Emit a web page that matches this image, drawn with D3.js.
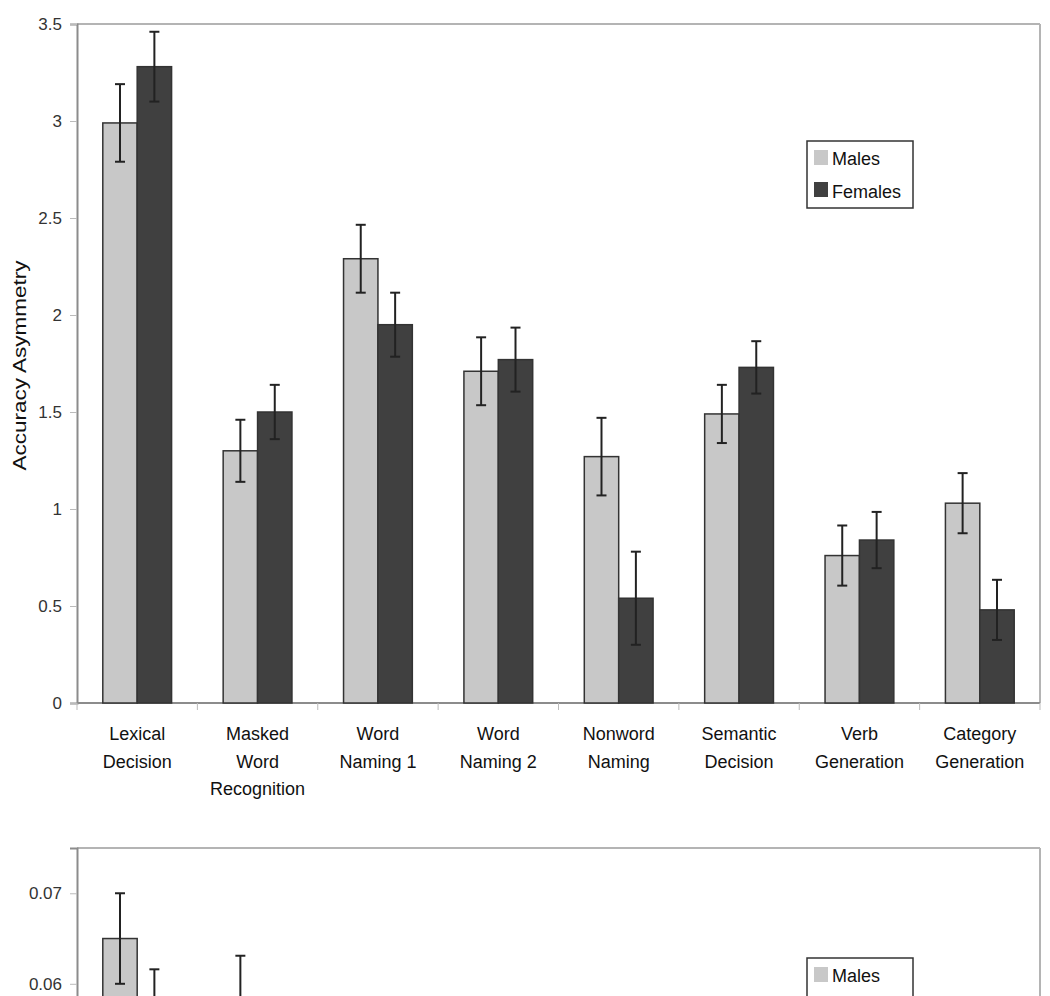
<!DOCTYPE html>
<html>
<head>
<meta charset="utf-8">
<script src="https://cdn.jsdelivr.net/npm/d3@7"></script>
<style>
  body { margin: 0; background: #fff; }
  svg text { font-family: "Liberation Sans", Arial, sans-serif; }
</style>
</head>
<body>
<div id="chart"></div>
<script>
// accuracy asymmetry by task, males vs females
var categories = ['Lexical Decision', 'Masked Word Recognition', 'Word Naming 1', 'Word Naming 2',
                  'Nonword Naming', 'Semantic Decision', 'Verb Generation', 'Category Generation'];
var categoryLines = [['Lexical', 'Decision'], ['Masked', 'Word', 'Recognition'], ['Word', 'Naming 1'],
                     ['Word', 'Naming 2'], ['Nonword', 'Naming'], ['Semantic', 'Decision'],
                     ['Verb', 'Generation'], ['Category', 'Generation']];
var series = ['Males', 'Females'];

var malesTop     = [2.99, 1.30, 2.29, 1.71, 1.27, 1.49, 0.76, 1.03];
var malesTopErr  = [0.20, 0.16, 0.175, 0.175, 0.20, 0.15, 0.155, 0.155];
var femalesTop    = [3.28, 1.50, 1.95, 1.77, 0.54, 1.73, 0.84, 0.48];
var femalesTopErr = [0.18, 0.14, 0.165, 0.165, 0.24, 0.135, 0.145, 0.155];
var topTicks = [0, 0.5, 1, 1.5, 2, 2.5, 3, 3.5];

// second panel, only its top part is in view
var malesBottom     = [0.065, 0.058, 0.050, 0.048, 0.046, 0.047, 0.044, 0.045];
var malesBottomErr  = [0.005, 0.0051, 0.004, 0.004, 0.005, 0.004, 0.004, 0.004];
var femalesBottom    = [0.057, 0.052, 0.049, 0.047, 0.043, 0.048, 0.045, 0.042];
var femalesBottomErr = [0.0046, 0.005, 0.004, 0.004, 0.005, 0.004, 0.004, 0.004];
var bottomTicks = [0, 0.01, 0.02, 0.03, 0.04, 0.05, 0.06, 0.07];

var colors = { Males: '#c8c8c8', Females: '#404040' };

var width = 1050, height = 996;
var left = 77, right = 1040;
var plotH = 679;

var svg = d3.select('#chart').append('svg')
    .attr('width', width)
    .attr('height', height);

svg.append('rect').attr('width', width).attr('height', height).attr('fill', 'white');

var x0 = d3.scaleBand().domain(categories).range([left, right]);
var x1 = d3.scaleBand().domain(series).range([0, x0.bandwidth()]).paddingOuter(0.75);

// only put text where it lands inside the page
function inView(yy) { return yy <= height - 4; }

function panel(top, ymax, ticks, males, malesErr, females, femalesErr, legendY) {
    var y = d3.scaleLinear().domain([0, ymax]).range([top + plotH, top]);
    var g = svg.append('g');

    // frame: top and right in light grey
    g.append('line').attr('x1', left).attr('x2', right).attr('y1', top).attr('y2', top)
        .attr('stroke', '#b4b4b4').attr('stroke-width', 2);
    g.append('line').attr('x1', right).attr('x2', right).attr('y1', top).attr('y2', top + plotH)
        .attr('stroke', '#b4b4b4').attr('stroke-width', 2);

    var shown = ticks.filter(function(d) { return inView(y(d) + 6); });
    var yAxis = g.append('g')
        .attr('transform', 'translate(' + left + ',0)')
        .call(d3.axisLeft(y).tickValues(shown).tickSize(7).tickPadding(8).tickFormat(function(d) { return String(d); }));
    yAxis.select('.domain').attr('stroke', '#8c8c8c').attr('stroke-width', 2);
    yAxis.selectAll('.tick line').attr('stroke', '#bbb');
    yAxis.selectAll('.tick text').attr('font-size', 17).attr('fill', '#333')
        .style('font-family', '"Liberation Sans", Arial, sans-serif');

    // baseline + separators between categories
    g.append('line').attr('x1', left).attr('x2', right).attr('y1', y(0)).attr('y2', y(0))
        .attr('stroke', '#8c8c8c').attr('stroke-width', 2);
    var bounds = categories.map(function(c) { return x0(c); }).concat([right]);
    g.selectAll('.sep').data(bounds).enter().append('line')
        .attr('x1', function(d) { return d; }).attr('x2', function(d) { return d; })
        .attr('y1', y(0)).attr('y2', y(0) + 7)
        .attr('stroke', '#bbb');

    var rows = categories.map(function(c, i) {
        return [
            { cat: c, s: 'Males', v: males[i], e: malesErr[i] },
            { cat: c, s: 'Females', v: females[i], e: femalesErr[i] }
        ];
    });
    var flat = [].concat.apply([], rows);

    g.selectAll('.bar').data(flat).enter().append('rect')
        .attr('x', function(d) { return x0(d.cat) + x1(d.s); })
        .attr('y', function(d) { return y(d.v); })
        .attr('width', x1.bandwidth())
        .attr('height', function(d) { return y(0) - y(d.v); })
        .attr('fill', function(d) { return colors[d.s]; })
        .attr('stroke', '#333')
        .attr('stroke-width', 1.5);

    var err = g.selectAll('.err').data(flat).enter().append('g')
        .attr('stroke', '#222').attr('stroke-width', 2);
    function cx(d) { return x0(d.cat) + x1(d.s) + x1.bandwidth() / 2; }
    err.append('line')
        .attr('x1', cx).attr('x2', cx)
        .attr('y1', function(d) { return y(d.v + d.e); })
        .attr('y2', function(d) { return y(d.v - d.e); });
    err.append('line')
        .attr('x1', function(d) { return cx(d) - 5; }).attr('x2', function(d) { return cx(d) + 5; })
        .attr('y1', function(d) { return y(d.v + d.e); }).attr('y2', function(d) { return y(d.v + d.e); });
    err.append('line')
        .attr('x1', function(d) { return cx(d) - 5; }).attr('x2', function(d) { return cx(d) + 5; })
        .attr('y1', function(d) { return y(d.v - d.e); }).attr('y2', function(d) { return y(d.v - d.e); });

    if (inView(y(0) + 37 + 2 * 27.5 + 5)) {
        var lab = g.selectAll('.cat').data(categoryLines).enter().append('text')
            .attr('text-anchor', 'middle')
            .attr('font-size', 18)
            .attr('fill', '#111')
            .attr('transform', function(d, i) {
                return 'translate(' + (x0(categories[i]) + x0.bandwidth() / 2) + ',' + (y(0) + 37) + ')';
            });
        lab.selectAll('tspan').data(function(d) { return d; }).enter().append('tspan')
            .attr('x', 0)
            .attr('y', function(d, j) { return j * 27.5; })
            .text(function(d) { return d; });

        g.append('text')
            .attr('transform', 'translate(26,' + (top + plotH / 2 + 2) + ') rotate(-90)')
            .attr('text-anchor', 'middle')
            .attr('font-size', 18)
            .attr('textLength', 210)
            .attr('lengthAdjust', 'spacingAndGlyphs')
            .attr('fill', '#111')
            .text('Accuracy Asymmetry');
    }

    // legend
    var lg = g.append('g').attr('transform', 'translate(807,' + legendY + ')');
    lg.append('rect').attr('width', 106).attr('height', 67)
        .attr('fill', 'white').attr('stroke', '#333').attr('stroke-width', 1.5);
    series.forEach(function(s, i) {
        if (!inView(legendY + 24 + i * 33 + 4)) return;
        lg.append('rect').attr('x', 7).attr('y', 9 + i * 32).attr('width', 14).attr('height', 15)
            .attr('fill', colors[s]);
        lg.append('text').attr('x', 25).attr('y', 24 + i * 33)
            .attr('font-size', 18).attr('fill', '#111').text(s);
    });
}

panel(24, 3.5, topTicks, malesTop, malesTopErr, femalesTop, femalesTopErr, 141);
panel(848, 0.075, bottomTicks, malesBottom, malesBottomErr, femalesBottom, femalesBottomErr, 958);
</script>
</body>
</html>
